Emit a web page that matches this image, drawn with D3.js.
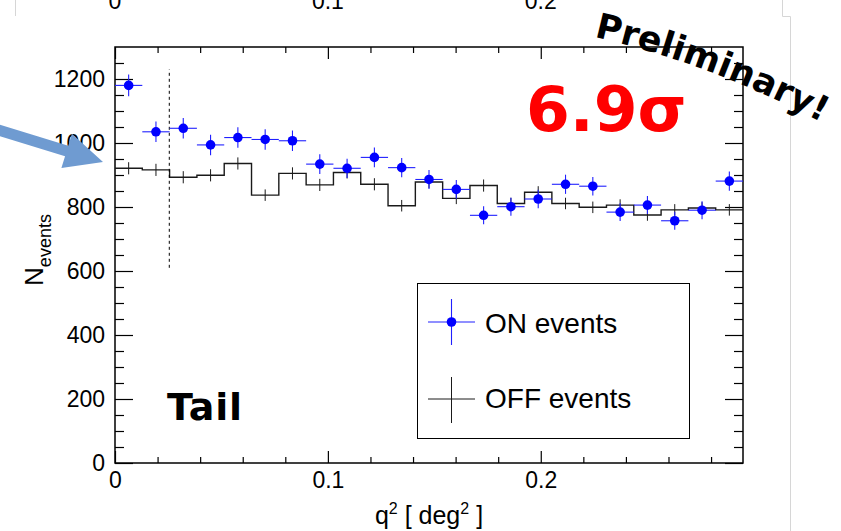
<!DOCTYPE html>
<html>
<head>
<meta charset="utf-8">
<script src="https://cdn.jsdelivr.net/npm/d3@7"></script>
<style>
  body { margin: 0; background: #fff; }
  svg { display: block; }
</style>
</head>
<body>
<svg id="chart" width="841" height="531"></svg>
<script>
// q^2 histogram, 23 equal bins from 0 to qMax
const qMax = 0.295;
const nBins = 23;

// ON-region counts per bin and their errors
const onCounts = [1180, 1035, 1046, 994, 1017, 1011, 1007, 934, 921, 955, 923, 886,
                  855, 774, 801, 825, 871, 865, 784, 806, 757, 790, 881];
const onErrors = [34, 32, 32, 32, 32, 32, 32, 31, 30, 31, 30, 30,
                  29, 28, 28, 29, 30, 29, 28, 28, 28, 28, 30];

// OFF-region (normalised) counts per bin and their errors
const offCounts = [921, 916, 893, 899, 936, 837, 905, 869, 908, 871, 804, 878,
                   827, 867, 811, 846, 811, 799, 806, 775, 791, 797, 791];
const offErrors = [19, 19, 19, 19, 19, 18, 19, 19, 19, 19, 18, 19,
                   18, 19, 18, 19, 18, 18, 18, 18, 18, 18, 18];

// axis ticks
const xMajorTicks = [0, 0.1, 0.2];
const xTickLabels = ["0", "0.1", "0.2"];
const xMinorTicks = [0.02, 0.04, 0.06, 0.08, 0.12, 0.14, 0.16, 0.18, 0.22, 0.24, 0.26, 0.28];
const yMajorTicks = [0, 200, 400, 600, 800, 1000, 1200];
const yMinorTicks = [50, 100, 150, 250, 300, 350, 450, 500, 550, 650, 700, 750,
                     850, 900, 950, 1050, 1100, 1150, 1250];

// theta^2 cut marker
const cutQ2 = 0.0255;
const cutRange = [610, 1230];

const svg = d3.select("#chart");
const W = 841, H = 531;
const plot = { left: 115, right: 743, top: 47, bottom: 463 };

const x = d3.scaleLinear().domain([0, qMax]).range([plot.left, plot.right]);
const y = d3.scaleLinear().domain([0, 1300]).range([plot.bottom, plot.top]);
const binW = qMax / nBins;

const tickFont = "'Liberation Sans', Arial, Helvetica, sans-serif";
const boldFont = "'DejaVu Sans', Verdana, sans-serif";
const tickSize = 23;

svg.append("rect").attr("width", W).attr("height", H).attr("fill", "#fff");

// slide background edges
const edge = svg.append("g").attr("stroke", "#d6d6d6").attr("stroke-width", 1).attr("fill", "none");
edge.append("path").attr("d", "M15.5,0V16");
edge.append("path").attr("d", "M782.5,0V16.5H790.5V531");

// cut-off tick labels of the panel above
const above = svg.append("g")
  .attr("font-family", tickFont).attr("font-size", tickSize).attr("fill", "#000")
  .attr("text-anchor", "middle");
xMajorTicks.forEach((v, i) => {
  above.append("text").attr("x", x(v)).attr("y", 9).text(xTickLabels[i]);
});

// ---- axes ----
function styleAxis(g) {
  g.select(".domain").remove();
  g.selectAll(".tick line").attr("stroke", "#000").attr("stroke-width", 1.2);
  g.selectAll(".tick text").attr("font-family", tickFont).attr("font-size", tickSize).attr("fill", "#000");
}

// bottom
svg.append("g").attr("transform", `translate(0,${plot.bottom})`)
  .call(d3.axisBottom(x).tickValues(xMajorTicks)
    .tickFormat((d, i) => xTickLabels[i]).tickSize(-12).tickPadding(9))
  .call(styleAxis);
svg.append("g").attr("transform", `translate(0,${plot.bottom})`)
  .call(d3.axisBottom(x).tickValues(xMinorTicks).tickFormat("").tickSize(-6))
  .call(styleAxis);
// top (mirrored)
svg.append("g").attr("transform", `translate(0,${plot.top})`)
  .call(d3.axisBottom(x).tickValues(xMajorTicks).tickFormat("").tickSize(12))
  .call(styleAxis);
svg.append("g").attr("transform", `translate(0,${plot.top})`)
  .call(d3.axisBottom(x).tickValues(xMinorTicks).tickFormat("").tickSize(6))
  .call(styleAxis);
// left
svg.append("g").attr("transform", `translate(${plot.left},0)`)
  .call(d3.axisLeft(y).tickValues(yMajorTicks).tickFormat(d3.format("d"))
    .tickSize(-18).tickPadding(10))
  .call(styleAxis);
svg.append("g").attr("transform", `translate(${plot.left},0)`)
  .call(d3.axisLeft(y).tickValues(yMinorTicks).tickFormat("").tickSize(-9))
  .call(styleAxis);
// right (mirrored)
svg.append("g").attr("transform", `translate(${plot.right},0)`)
  .call(d3.axisRight(y).tickValues(yMajorTicks).tickFormat("").tickSize(-18))
  .call(styleAxis);
svg.append("g").attr("transform", `translate(${plot.right},0)`)
  .call(d3.axisRight(y).tickValues(yMinorTicks).tickFormat("").tickSize(-9))
  .call(styleAxis);

// frame
svg.append("rect")
  .attr("x", plot.left).attr("y", plot.top)
  .attr("width", plot.right - plot.left).attr("height", plot.bottom - plot.top)
  .attr("fill", "none").attr("stroke", "#000").attr("stroke-width", 1.5);

// axis titles
const xTitle = svg.append("text")
  .attr("x", (plot.left + plot.right) / 2).attr("y", 524)
  .attr("text-anchor", "middle")
  .attr("font-family", tickFont).attr("font-size", 25).attr("fill", "#000");
xTitle.append("tspan").text("q");
xTitle.append("tspan").attr("dy", -10).attr("font-size", 16).text("2");
xTitle.append("tspan").attr("dy", 10).text(" [ deg");
xTitle.append("tspan").attr("dy", -10).attr("font-size", 16).text("2");
xTitle.append("tspan").attr("dy", 10).text(" ]");

const yTitle = svg.append("text")
  .attr("transform", "translate(43,250) rotate(-90)")
  .attr("text-anchor", "middle")
  .attr("font-family", tickFont).attr("font-size", 26).attr("fill", "#000");
yTitle.append("tspan").text("N");
yTitle.append("tspan").attr("dy", 8).attr("font-size", 18).text("events");

// ---- OFF histogram (step line with error crosses) ----
const stepData = offCounts.map((v, i) => [i * binW, v]).concat([[qMax, offCounts[nBins - 1]]]);
svg.append("path")
  .datum(stepData)
  .attr("fill", "none").attr("stroke", "#1a1a1a").attr("stroke-width", 1.4)
  .attr("d", d3.line().x(d => x(d[0])).y(d => y(d[1])).curve(d3.curveStepAfter));

svg.append("g").attr("stroke", "#1a1a1a").attr("stroke-width", 1)
  .selectAll("line").data(offCounts).join("line")
  .attr("x1", (d, i) => x((i + 0.5) * binW)).attr("x2", (d, i) => x((i + 0.5) * binW))
  .attr("y1", (d, i) => y(d - offErrors[i])).attr("y2", (d, i) => y(d + offErrors[i]));

// theta^2 cut line
svg.append("line")
  .attr("x1", x(cutQ2)).attr("x2", x(cutQ2))
  .attr("y1", y(cutRange[0])).attr("y2", y(cutRange[1]))
  .attr("stroke", "#000").attr("stroke-width", 1).attr("stroke-dasharray", "3,3");

// ---- ON points ----
const onG = svg.append("g");
onG.append("g").attr("stroke", "#2020ff").attr("stroke-width", 1.1)
  .selectAll("line.h").data(onCounts).join("line")
  .attr("x1", (d, i) => x(i * binW)).attr("x2", (d, i) => x((i + 1) * binW))
  .attr("y1", d => y(d)).attr("y2", d => y(d));
onG.append("g").attr("stroke", "#2020ff").attr("stroke-width", 1.1)
  .selectAll("line.v").data(onCounts).join("line")
  .attr("x1", (d, i) => x((i + 0.5) * binW)).attr("x2", (d, i) => x((i + 0.5) * binW))
  .attr("y1", (d, i) => y(d - onErrors[i])).attr("y2", (d, i) => y(d + onErrors[i]));
onG.append("g").attr("fill", "#0000ff")
  .selectAll("circle").data(onCounts).join("circle")
  .attr("cx", (d, i) => x((i + 0.5) * binW)).attr("cy", d => y(d)).attr("r", 4.8);

// ---- legend ----
const leg = svg.append("g");
leg.append("rect").attr("x", 417.5).attr("y", 283.5).attr("width", 272).attr("height", 155)
  .attr("fill", "#fff").attr("stroke", "#000").attr("stroke-width", 1);
// ON entry
leg.append("line").attr("x1", 428).attr("x2", 475).attr("y1", 322).attr("y2", 322)
  .attr("stroke", "#2020ff").attr("stroke-width", 1.1);
leg.append("line").attr("x1", 451.5).attr("x2", 451.5).attr("y1", 299).attr("y2", 345)
  .attr("stroke", "#2020ff").attr("stroke-width", 1.1);
leg.append("circle").attr("cx", 451.5).attr("cy", 322).attr("r", 4.8).attr("fill", "#0000ff");
leg.append("text").attr("x", 485).attr("y", 333)
  .attr("font-family", tickFont).attr("font-size", 28).attr("fill", "#000").text("ON events");
// OFF entry
leg.append("line").attr("x1", 428).attr("x2", 475).attr("y1", 399).attr("y2", 399)
  .attr("stroke", "#1a1a1a").attr("stroke-width", 1);
leg.append("line").attr("x1", 451.5).attr("x2", 451.5).attr("y1", 377).attr("y2", 423)
  .attr("stroke", "#1a1a1a").attr("stroke-width", 1);
leg.append("text").attr("x", 485).attr("y", 408)
  .attr("font-family", tickFont).attr("font-size", 28).attr("fill", "#000").text("OFF events");

// ---- annotations ----
svg.append("text").attr("x", 167).attr("y", 420)
  .attr("font-family", boldFont).attr("font-weight", "bold").attr("font-size", 38)
  .attr("letter-spacing", 0.8).attr("fill", "#000").text("Tail");

svg.append("text").attr("x", 526).attr("y", 131)
  .attr("font-family", boldFont).attr("font-weight", "bold").attr("font-size", 63)
  .attr("fill", "#ff0000").text("6.9σ");

// curved "Preliminary!" stamp
svg.append("defs").append("path").attr("id", "prelimArc")
  .attr("d", "M594,37 Q712,63 836,130");
svg.append("text")
  .attr("font-family", boldFont).attr("font-weight", "bold").attr("font-size", 35)
  .attr("fill", "#000")
  .append("textPath").attr("href", "#prelimArc").text("Preliminary!");

// pointer arrow
(function () {
  const tail = [-5, 129], tip = [103, 162];
  const ang = Math.atan2(tip[1] - tail[1], tip[0] - tail[0]);
  const c = Math.cos(ang), s = Math.sin(ang);
  const shaftHalf = 5.5, headLen = 38, headHalf = 18;
  const bx = tip[0] - headLen * c, by = tip[1] - headLen * s;
  const nx = -s, ny = c;
  const pts = [
    [tail[0] + nx * shaftHalf, tail[1] + ny * shaftHalf],
    [bx + nx * shaftHalf, by + ny * shaftHalf],
    [bx + nx * headHalf, by + ny * headHalf],
    tip,
    [bx - nx * headHalf, by - ny * headHalf],
    [bx - nx * shaftHalf, by - ny * shaftHalf],
    [tail[0] - nx * shaftHalf, tail[1] - ny * shaftHalf]
  ];
  svg.append("polygon").attr("points", pts.map(p => p.join(",")).join(" "))
    .attr("fill", "#6f9bd1");
})();
</script>
</body>
</html>
